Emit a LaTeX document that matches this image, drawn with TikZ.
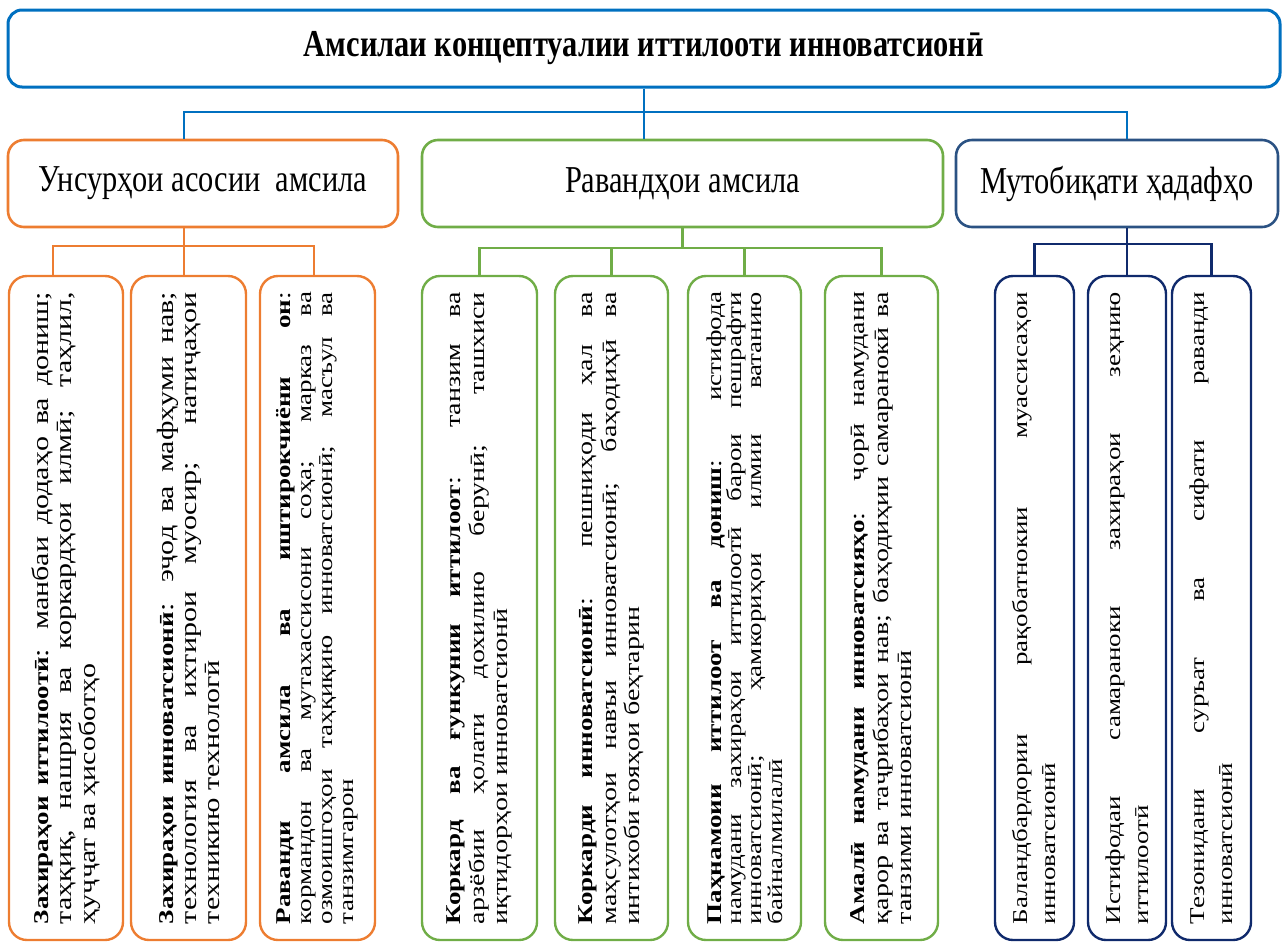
\documentclass[tikz,border=0pt]{standalone}
\usepackage{fontspec}
\setmainfont{Liberation Serif}
\usepackage{graphicx}
\definecolor{tblue}{HTML}{0070C0}
\definecolor{orn}{HTML}{ED7D31}
\definecolor{grn}{HTML}{70AD47}
\definecolor{nvy}{HTML}{2B5283}
\definecolor{dnvy}{HTML}{102A6C}
\newcommand{\vtext}[3]{\scalebox{0.78}[1]{\rotatebox{90}{\parbox{632pt}{\fontsize{#2}{#1}\selectfont\hyphenpenalty=10000\hbadness=10000\hfuzz=40pt #3}}}}
\newcommand{\hd}[1]{{\fontsize{27}{27}\selectfont\textbf{#1}}}
\newcommand{\htext}[2]{\scalebox{0.8}[1]{\fontsize{38}{44}\selectfont #1#2}}
\tikzset{
  titlebox/.style={draw=tblue, line width=3pt, rounded corners=14pt, inner sep=0pt, minimum width=1272pt, minimum height=77pt},
  midbox/.style={draw, line width=2.6pt, rounded corners=16pt, inner sep=0pt, minimum height=87pt},
  leafbox/.style={draw, line width=2.4pt, rounded corners=18pt, inner sep=0pt, minimum height=664pt},
  conn/.style={line width=2.5pt}
}
\begin{document}
\begin{tikzpicture}[x=1pt,y=-1pt]
\useasboundingbox (0,0) rectangle (1284,943);
% title
\node[titlebox] (T) at (644,48.5) {\htext{\bfseries}{Амсилаи концептуалии иттилооти инноватсионӣ}};
% mid level
\node[midbox, draw=orn, minimum width=390pt] (OR) at (203,183.5) {\htext{}{Унсурҳои асосии\ \ амсила}};
\node[midbox, draw=grn, minimum width=521pt] (GR) at (682.5,183.5) {\htext{}{Равандҳои амсила}};
\node[midbox, draw=nvy, minimum width=322pt] (BL) at (1117,183.5) {\htext{}{Мутобиқати ҳадафҳо}};
% leaves orange
\node[leafbox, draw=orn, minimum width=114pt] (O1) at (66,608) {\vtext{30}{30}{\hd{Захираҳои иттилоотӣ}: манбаи додаҳо ва дониш;\linebreak таҳқиқ, нашрия ва коркардҳои илмӣ; таҳлил,\linebreak ҳуҷҷат ва ҳисоботҳо}};
\node[leafbox, draw=orn, minimum width=115pt] (O2) at (188.5,608) {\vtext{30}{30}{\hd{Захираҳои инноватсионӣ}: эҷод ва мафҳуми нав;\linebreak технология ва ихтирои муосир; натиҷаҳои\linebreak техникию технологӣ}};
\node[leafbox, draw=orn, minimum width=115pt] (O3) at (317.5,608) {\vtext{27}{27}{\hd{Раванди амсила ва иштирокчиёни он}:\linebreak кормандон ва мутахассисони соҳа; марказ ва\linebreak озмоишгоҳои таҳқиқию инноватсионӣ; масъул ва\linebreak танзимгарон}};
% leaves green
\node[leafbox, draw=grn, minimum width=115pt] (G1) at (479.5,608) {\vtext{30}{28}{\hd{Коркард ва ғункунии иттилоот}: танзим ва\linebreak арзёбии ҳолати дохилию берунӣ; ташхиси\linebreak иқтидорҳои инноватсионӣ}};
\node[leafbox, draw=grn, minimum width=113pt] (G2) at (611.5,608) {\vtext{30}{28}{\hd{Коркарди инноватсионӣ}: пешниҳоди ҳал ва\linebreak маҳсулотҳои навъи инноватсионӣ; баҳодиҳӣ ва\linebreak интихоби ғояҳои беҳтарин}};
\node[leafbox, draw=grn, minimum width=113pt] (G3) at (744.5,608) {\vtext{26}{27}{\hd{Паҳнамоии иттилоот ва дониш}: истифода\linebreak намудани захираҳои иттилоотӣ барои пешрафти\linebreak инноватсионӣ; ҳамкориҳои илмии ватанию\linebreak байналмилалӣ}};
\node[leafbox, draw=grn, minimum width=113pt] (G4) at (881.5,608) {\vtext{30}{28}{\hd{Амалӣ намудани инноватсияҳо}: ҷорӣ намудани\linebreak қарор ва таҷрибаҳои нав; баҳодиҳии самаранокӣ ва\linebreak танзими инноватсионӣ}};
% leaves blue
\node[leafbox, draw=dnvy, minimum width=79pt] (B1) at (1034.5,608) {\vtext{36}{27}{Баландбардории рақобатнокии муассисаҳои\linebreak инноватсионӣ}};
\node[leafbox, draw=dnvy, minimum width=78pt] (B2) at (1127,608) {\vtext{36}{27}{Истифодаи самараноки захираҳои зеҳнию\linebreak иттилоотӣ}};
\node[leafbox, draw=dnvy, minimum width=79pt] (B3) at (1211.5,608) {\vtext{36}{27}{Тезонидани суръат ва сифати раванди\linebreak инноватсионӣ}};
% bar levels and connector feet
\coordinate (tb) at (0,112);
\coordinate (ob) at (0,246);
\coordinate (gb) at (0,248);
\coordinate (bb) at (0,244);
\coordinate (o1t) at ([xshift=-13pt]O1.north);
\coordinate (o2t) at ([xshift=-4.5pt]O2.north);
\coordinate (o3t) at ([xshift=-3.5pt]O3.north);
% top connectors
\draw[conn, tblue] (T.south) -- (T.south |- GR.north);
\draw[conn, tblue] (OR.north -| o2t) |- (tb -| T.south) -| (BL.north -| B2.north);
% orange connectors
\draw[conn, orn] (OR.south -| o2t) -- (o2t);
\draw[conn, orn] (o1t) |- (ob -| o3t) -- (o3t);
% green connectors
\draw[conn, grn] (GR.south) -- (GR.south |- gb);
\draw[conn, grn] (G1.north) |- (gb -| G4.north) -- (G4.north);
\draw[conn, grn] (G2.north) -- (G2.north |- gb);
\draw[conn, grn] (G3.north) -- (G3.north |- gb);
% blue connectors
\draw[conn, dnvy] (BL.south -| B2.north) -- (B2.north);
\draw[conn, dnvy] (B1.north) |- (bb -| B3.north) -- (B3.north);
\end{tikzpicture}
\end{document}
